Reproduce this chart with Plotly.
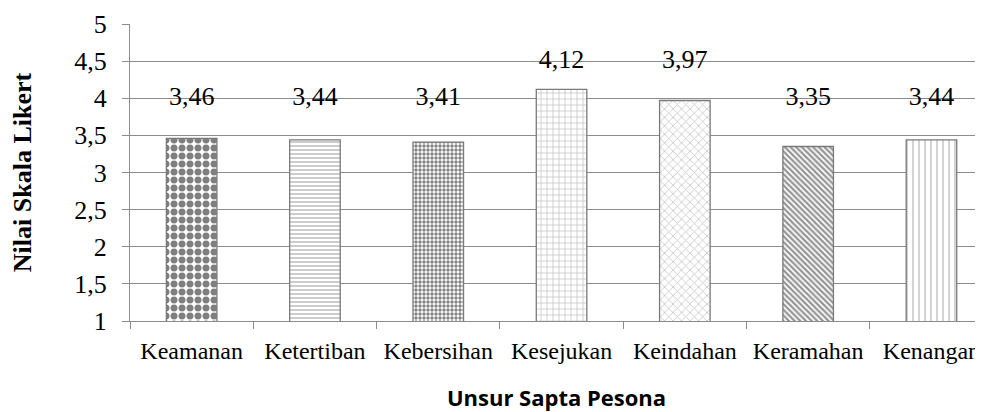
import plotly.graph_objects as go

categories = ["Keamanan", "Ketertiban", "Kebersihan", "Kesejukan", "Keindahan", "Keramahan", "Kenangan"]
values = [3.46, 3.44, 3.41, 4.12, 3.97, 3.35, 3.44]
labels = ["3,46", "3,44", "3,41", "4,12", "3,97", "3,35", "3,44"]
ytick_vals = [1, 1.5, 2, 2.5, 3, 3.5, 4, 4.5, 5]
ytick_text = ["1", "1,5", "2", "2,5", "3", "3,5", "4", "4,5", "5"]

shapes = [".", "-", ".", "+", "x", "\\", "|"]
fgcols = ["#000000", "#8f8f8f", "#000000", "#808080", "#8a8a8a", "#2a2a2a", "#8a8a8a"]
sizes = [8, 4, 4, 6, 6, 4, 6]
solid = [0.6, 0.45, 0.55, 0.22, 0.25, 0.55, 0.25]

serif = "Liberation Serif"

fig = go.Figure()
fig.add_trace(go.Bar(
    x=categories, y=values, base=0,
    width=0.41,
    marker=dict(
        color="white",
        line=dict(color="#7a7a7a", width=1.3),
        pattern=dict(shape=shapes, fgcolor=fgcols, bgcolor="white", size=sizes, solidity=solid, fillmode="overlay"),
    ),
    hoverinfo="skip",
))

label_y = [round(v * 2) / 2 + 0.5 for v in values]
fig.add_trace(go.Scatter(
    x=categories, y=label_y, mode="text", text=labels,
    textposition="middle center",
    textfont=dict(family=serif, size=26, color="#000"),
    hoverinfo="skip",
))

fig.update_layout(
    width=975, height=404,
    margin=dict(l=122, r=0, t=16, b=91),
    paper_bgcolor="white", plot_bgcolor="white",
    showlegend=False,
    xaxis=dict(
        type="category",
        range=[-0.5, 6.418],
        tickfont=dict(family=serif, size=24, color="#000"),
        tickangle=0, automargin=False,
        showgrid=False, showline=True, linecolor="#8c8c8c", linewidth=1,
        ticks="outside", tickson="boundaries", ticklen=7, tickcolor="#8c8c8c",
        ticklabelstandoff=8,
        zeroline=False,
        title=dict(text="<b>Unsur Sapta Pesona</b>", font=dict(family="Open Sans", size=22, color="#000"), standoff=31),
    ),
    yaxis=dict(
        range=[1, 5],
        tickvals=ytick_vals, ticktext=ytick_text,
        tickfont=dict(family=serif, size=26, color="#000"),
        automargin=False,
        showgrid=True, gridcolor="#8c8c8c", gridwidth=1,
        showline=True, linecolor="#8c8c8c", linewidth=1,
        ticks="outside", ticklen=7, tickcolor="#8c8c8c",
        ticklabelstandoff=10,
        zeroline=False,
        title=dict(text="<b>Nilai Skala Likert</b>", font=dict(family=serif, size=26, color="#000"), standoff=38),
    ),
)

fig.write_html("out.html")
